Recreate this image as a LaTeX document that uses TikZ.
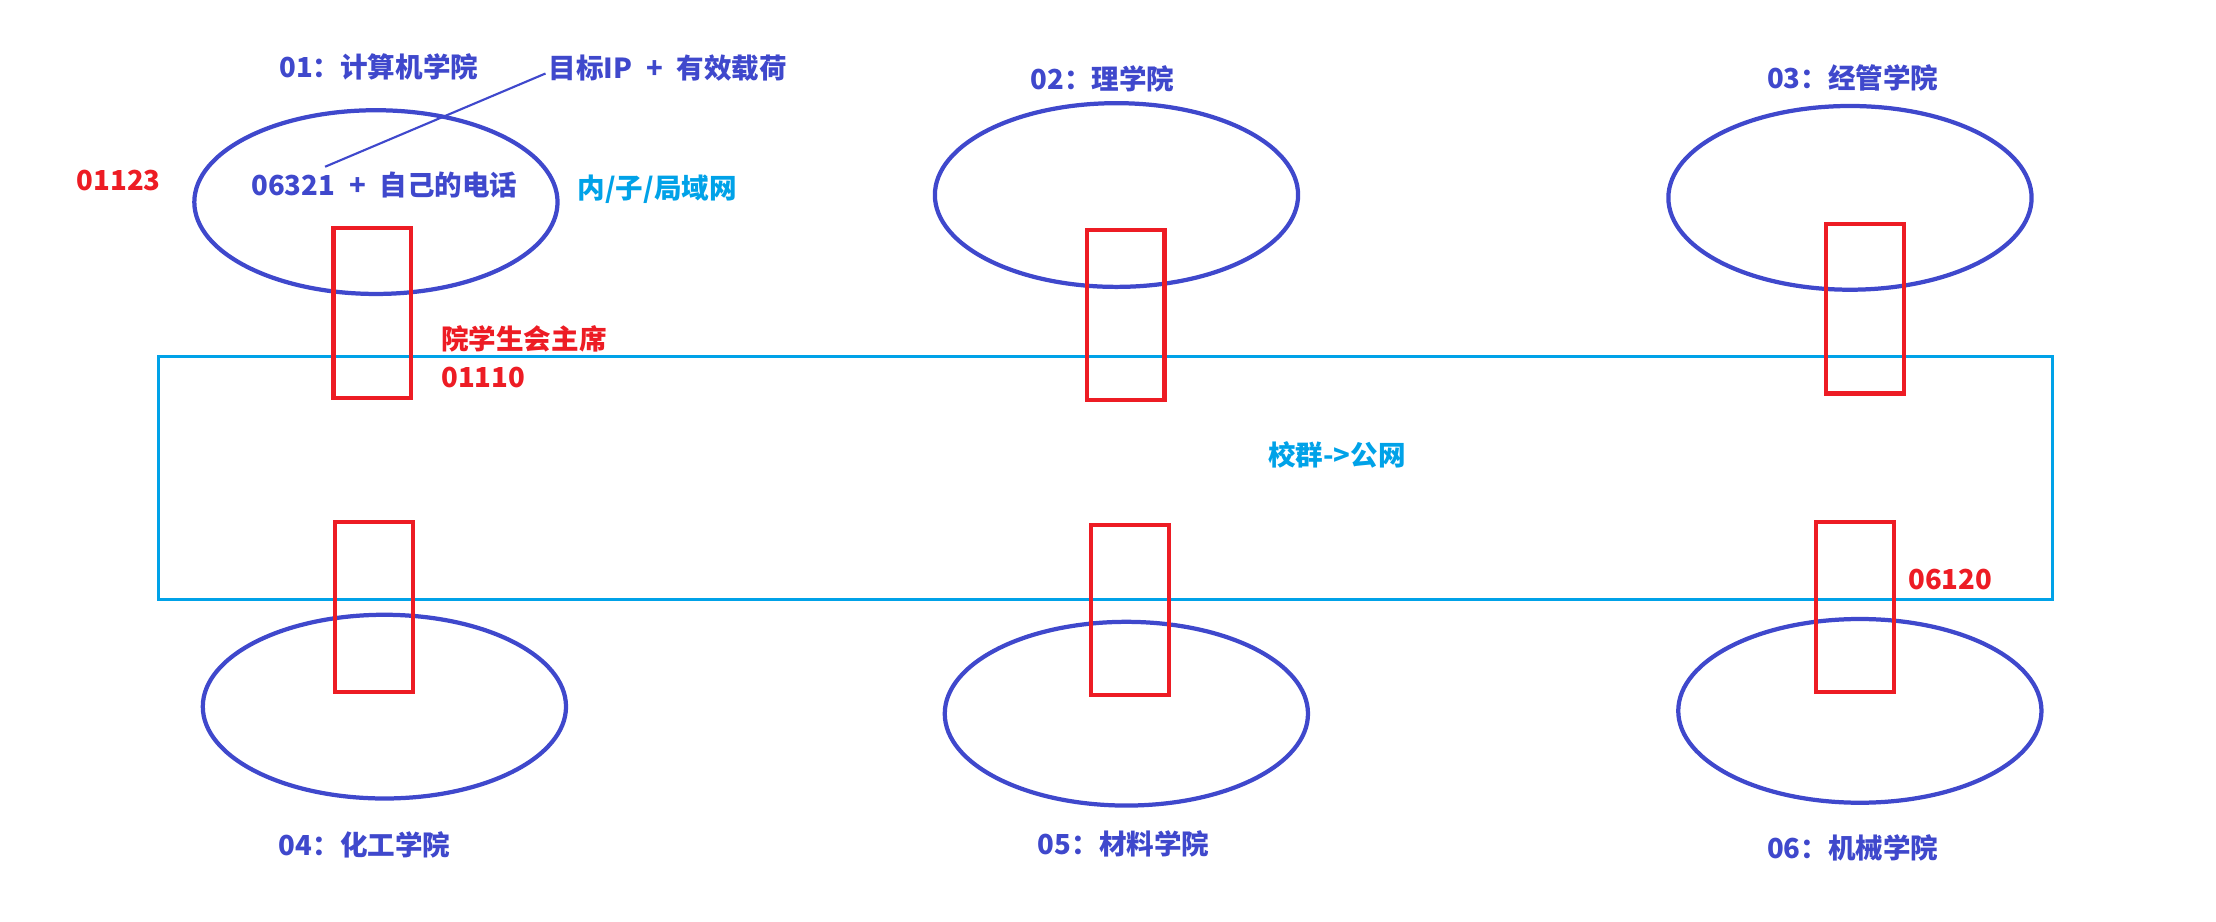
\documentclass[tikz,border=0pt]{standalone}
\usepackage{fontspec}
\setmainfont{Noto Sans CJK SC}
\usetikzlibrary{shapes.geometric}
\definecolor{ink}{HTML}{3F48CC}
\definecolor{rd}{HTML}{ED1C24}
\definecolor{cy}{HTML}{00A2E8}
\newcommand{\plussep}{\hspace{0.5em}+\hspace{0.5em}}
\tikzset{
  college/.style={ellipse, draw=ink, line width=3pt, minimum width=257pt, minimum height=130pt, inner sep=0pt},
  gateway/.style={rectangle, draw=rd, line width=3pt, minimum width=55pt, minimum height=120pt, inner sep=0pt},
  txt/.style={inner sep=0pt, font=\fontsize{19.5}{22}\selectfont\bfseries},
  bluetxt/.style={txt, text=ink},
  redtxt/.style={txt, text=rd},
  cytxt/.style={txt, text=cy},
}
\begin{document}
\begin{tikzpicture}[x=1pt,y=-1pt]
\useasboundingbox (0,0) rectangle (1568,652);
% campus network
\node[rectangle, draw=cy, line width=2pt, minimum width=1340pt, minimum height=172pt, inner sep=0pt] (campus) at (782,338) {};
% colleges
\node[college] (e1) at (266,143) {};
\node[college] (e2) at (790,138) {};
\node[college] (e3) at (1309,140) {};
\node[college] (e4) at (272,500) {};
\node[college] (e5) at (797,505) {};
\node[college] (e6) at (1316,503) {};
% gateways
\node[gateway] (g1) at (263.5,221.5) {};
\node[gateway] (g2) at (796.5,223) {};
\node[gateway] (g3) at (1319.5,218.5) {};
\node[gateway] (g4) at (264.5,429.5) {};
\node[gateway] (g5) at (799.5,431.5) {};
\node[gateway] (g6) at (1312.5,429.5) {};
% labels
\node[bluetxt] (t01) at (268,47) {01：计算机学院};
\node[bluetxt] (t02) at (780,56) {02：理学院};
\node[bluetxt] (t03) at (1311,55) {03：经管学院};
\node[bluetxt] (t04) at (258,598) {04：化工学院};
\node[bluetxt] (t05) at (795,597) {05：材料学院};
\node[bluetxt] (t06) at (1311,600) {06：机械学院};
\node[bluetxt] (tsrc) at (272,131) {06321\plussep 自己的电话};
\node[bluetxt, anchor=west] (tdst) at (388,48) {目标IP\plussep 有效载荷};
\node[redtxt] (t01123) at (84,128) {01123};
\node[cytxt] (tlan) at (465,134) {内/子/局域网};
\node[redtxt, anchor=west] (tpres) at (312,240) {院学生会主席};
\node[redtxt, anchor=west] (t01110) at (312,267) {01110};
\node[cytxt] (tpub) at (946,322) {校群->公网};
\node[redtxt] (t06120) at (1380,410) {06120};
% connector
\coordinate (lstart) at (230,118);
\draw[ink, line width=1.5pt] (lstart) -- ([shift={(-2pt,-4pt)}]tdst.west);
\end{tikzpicture}
\end{document}
